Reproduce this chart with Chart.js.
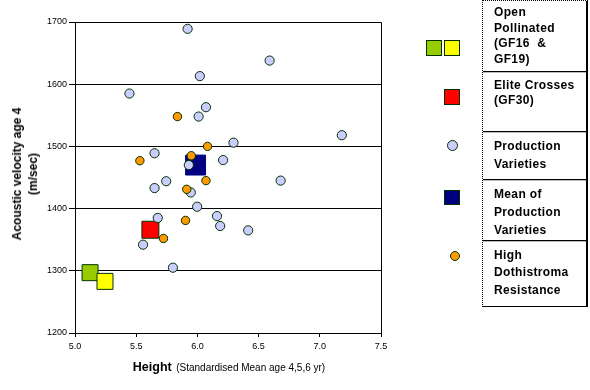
<!DOCTYPE html>
<html>
<head>
<meta charset="utf-8">
<script src="https://cdn.jsdelivr.net/npm/chart.js@4.4.0/dist/chart.umd.min.js"></script>
<style>
  html, body { margin: 0; padding: 0; background: #fff; }
  #wrap { position: relative; width: 590px; height: 390px; overflow: hidden; font-family: "Liberation Sans", Arial, sans-serif; }
  canvas { position: absolute; left: 0; top: 0; }
  .ytitle { position: absolute; left: 25px; top: 174px; transform: translate(-50%, -50%) rotate(-90deg); white-space: nowrap; text-align: center; font-weight: bold; font-size: 12px; line-height: 16px; color: #000; }
  .xtitle { position: absolute; left: 229px; top: 366px; transform: translate(-50%, -50%); white-space: nowrap; color: #000; }
  .xtitle b { font-size: 12.5px; }
  .xtitle span { font-size: 10px; letter-spacing: 0px; }
  #legend { position: absolute; left: 482px; top: 0; width: 106px; height: 307px; box-sizing: border-box; border-left: 1px dotted #000; border-top: 1px dotted #000; border-right: 2px solid #000; border-bottom: 1px solid #000; }
  .row { position: absolute; left: 0; right: 0; box-sizing: border-box; border-bottom: 1px solid #000; box-shadow: 0 1px 0 #bbb; padding-left: 11px; font-weight: bold; font-size: 12px; letter-spacing: 0.35px; color: #000; }
  .mk { position: absolute; box-sizing: border-box; border: 1px solid #003300; }
</style>
</head>
<body>
<div id="wrap">
  <canvas id="c" width="590" height="390"></canvas>
  <div class="ytitle">Acoustic velocity age 4<br>(m/sec)</div>
  <div class="xtitle"><b>Height</b> <span>(Standardised Mean age 4,5,6 yr)</span></div>
  <div id="legend"></div>
</div>
<script>
// ---- Data ----
const xTickValues = [5.0, 5.5, 6.0, 6.5, 7.0, 7.5];
const yTickValues = [1200, 1300, 1400, 1500, 1600, 1700];

const productionX = [5.92, 6.59, 6.02, 5.445, 6.07, 6.01, 7.18, 6.295, 5.65, 6.21, 5.93, 5.745, 6.68, 5.65, 5.946, 5.998, 5.676, 6.16, 6.186, 6.415, 5.556, 5.80];
const productionY = [1689, 1638, 1613, 1585, 1563, 1548, 1518, 1506, 1489, 1478, 1470, 1444, 1445, 1433, 1426, 1403, 1385, 1388, 1372, 1365, 1342, 1305];

const dothistromaX = [5.837, 6.083, 5.95, 5.53, 6.07, 5.913, 5.903, 5.723];
const dothistromaY = [1548, 1500, 1485, 1477, 1445, 1431, 1381, 1352];

const meanProductionX = [5.985];
const meanProductionY = [1470];

const eliteX = [5.616];
const eliteY = [1366];

const gf16X = [5.123];
const gf16Y = [1297];

const gf19X = [5.245];
const gf19Y = [1283];

const legendLabels = [
  ["Open", "Pollinated", "(GF16\u00a0 &", "GF19)"],
  ["Elite Crosses", "(GF30)"],
  ["Production", "Varieties"],
  ["Mean of", "Production", "Varieties"],
  ["High", "Dothistroma", "Resistance"]
];

// ---- helpers ----
const pts = (xs, ys) => xs.map((x, i) => ({ x: x, y: ys[i] }));
const EDGE = '#003300';

// ---- legend (HTML) ----
const legendRows = [
  { top: 0, h: 72, pad: 5, lh: 15.7 },
  { top: 72, h: 60, pad: 6, lh: 15 },
  { top: 132, h: 48, pad: 6, lh: 17.7 },
  { top: 180, h: 61, pad: 5, lh: 18 },
  { top: 241, h: 66, pad: 6, lh: 17.3 }
];
const legendEl = document.getElementById('legend');
legendRows.forEach((r, i) => {
  const d = document.createElement('div');
  d.className = 'row';
  d.style.top = (r.top - 1) + 'px';
  d.style.height = (i === legendRows.length - 1 ? r.h - 1 : r.h) + 'px';
  if (i === legendRows.length - 1) { d.style.borderBottom = 'none'; d.style.boxShadow = 'none'; }
  d.style.paddingTop = r.pad + 'px';
  d.style.lineHeight = r.lh + 'px';
  d.innerHTML = legendLabels[i].join('<br>');
  legendEl.appendChild(d);
});
const wrap = document.getElementById('wrap');
const markers = [
  { l: 426, t: 40, w: 16, h: 16, bg: '#99CC00', r: 0 },
  { l: 444, t: 40, w: 16, h: 16, bg: '#FFFF00', r: 0 },
  { l: 444, t: 89, w: 16, h: 16, bg: '#FF0000', r: 0 },
  { l: 447, t: 140, w: 11, h: 11, bg: '#CCCCFF', r: '50%' },
  { l: 444, t: 190, w: 16, h: 15, bg: '#000080', r: 0 },
  { l: 450, t: 251, w: 10, h: 10, bg: '#FF9900', r: '50%' }
];
markers.forEach(m => {
  const d = document.createElement('div');
  d.className = 'mk';
  d.style.left = m.l + 'px'; d.style.top = m.t + 'px';
  d.style.width = m.w + 'px'; d.style.height = m.h + 'px';
  d.style.background = m.bg; d.style.borderRadius = m.r;
  wrap.appendChild(d);
});

// ---- chart ----
const frame = {
  id: 'frame',
  afterDraw(chart) {
    const a = chart.chartArea, ctx = chart.ctx;
    ctx.save();
    ctx.strokeStyle = '#000';
    ctx.lineWidth = 1;
    ctx.beginPath();
    ctx.moveTo(Math.round(a.left) + 0.5, Math.round(a.top) + 0.5);
    ctx.lineTo(Math.round(a.right) + 0.5, Math.round(a.top) + 0.5);
    ctx.lineTo(Math.round(a.right) + 0.5, Math.round(a.bottom) + 0.5);
    ctx.stroke();
    ctx.restore();
  }
};

const tickFont = { family: '"Liberation Sans", Arial, sans-serif', size: 9 };

new Chart(document.getElementById('c'), {
  type: 'scatter',
  data: {
    datasets: [
      { label: 'High Dothistroma Resistance', data: pts(dothistromaX, dothistromaY), order: 0,
        pointStyle: 'circle', pointRadius: 4.2, backgroundColor: '#FF9900', borderColor: EDGE, borderWidth: 1 },
      { label: 'Production Varieties', data: pts(productionX, productionY), order: 1,
        pointStyle: 'circle', pointRadius: 4.6, backgroundColor: '#CCCCFF', borderColor: EDGE, borderWidth: 1 },
      { label: 'GF19', data: pts(gf19X, gf19Y), order: 2,
        pointStyle: 'rect', pointRadius: 11.3, backgroundColor: '#FFFF00', borderColor: EDGE, borderWidth: 1 },
      { label: 'GF16', data: pts(gf16X, gf16Y), order: 3,
        pointStyle: 'rect', pointRadius: 11.3, backgroundColor: '#99CC00', borderColor: EDGE, borderWidth: 1 },
      { label: 'Elite Crosses (GF30)', data: pts(eliteX, eliteY), order: 4,
        pointStyle: 'rect', pointRadius: 12, backgroundColor: '#FF0000', borderColor: EDGE, borderWidth: 1 },
      { label: 'Mean of Production Varieties', data: pts(meanProductionX, meanProductionY), order: 5,
        pointStyle: 'rect', pointRadius: 14.1, backgroundColor: '#000080', borderColor: '#000080', borderWidth: 1 }
    ]
  },
  options: {
    responsive: false,
    animation: false,
    events: [],
    layout: { padding: { left: 0, top: 22, right: 209, bottom: 0 } },
    plugins: { legend: { display: false }, tooltip: { enabled: false }, title: { display: false } },
    scales: {
      x: {
        type: 'linear', min: xTickValues[0], max: xTickValues[xTickValues.length - 1],
        afterFit(s) { s.height = 57; },
        afterBuildTicks(s) { s.ticks = xTickValues.map(v => ({ value: v })); },
        ticks: { font: tickFont, color: '#000', padding: 4, maxRotation: 0, autoSkip: false,
          callback: v => Number(v).toFixed(1) },
        grid: { display: true, drawOnChartArea: false, drawTicks: true, tickLength: 4, color: '#000', lineWidth: 1 },
        border: { display: true, color: '#000', width: 1 }
      },
      y: {
        type: 'linear', min: yTickValues[0], max: yTickValues[yTickValues.length - 1],
        afterFit(s) { s.width = 75; },
        afterBuildTicks(s) { s.ticks = yTickValues.map(v => ({ value: v })); },
        ticks: { font: tickFont, color: '#000', padding: 2, autoSkip: false, callback: v => String(v) },
        grid: { display: true, drawOnChartArea: true, drawTicks: true, tickLength: 6, color: '#000', lineWidth: 1 },
        border: { display: true, color: '#000', width: 1 }
      }
    }
  },
  plugins: [frame]
});
</script>
</body>
</html>
